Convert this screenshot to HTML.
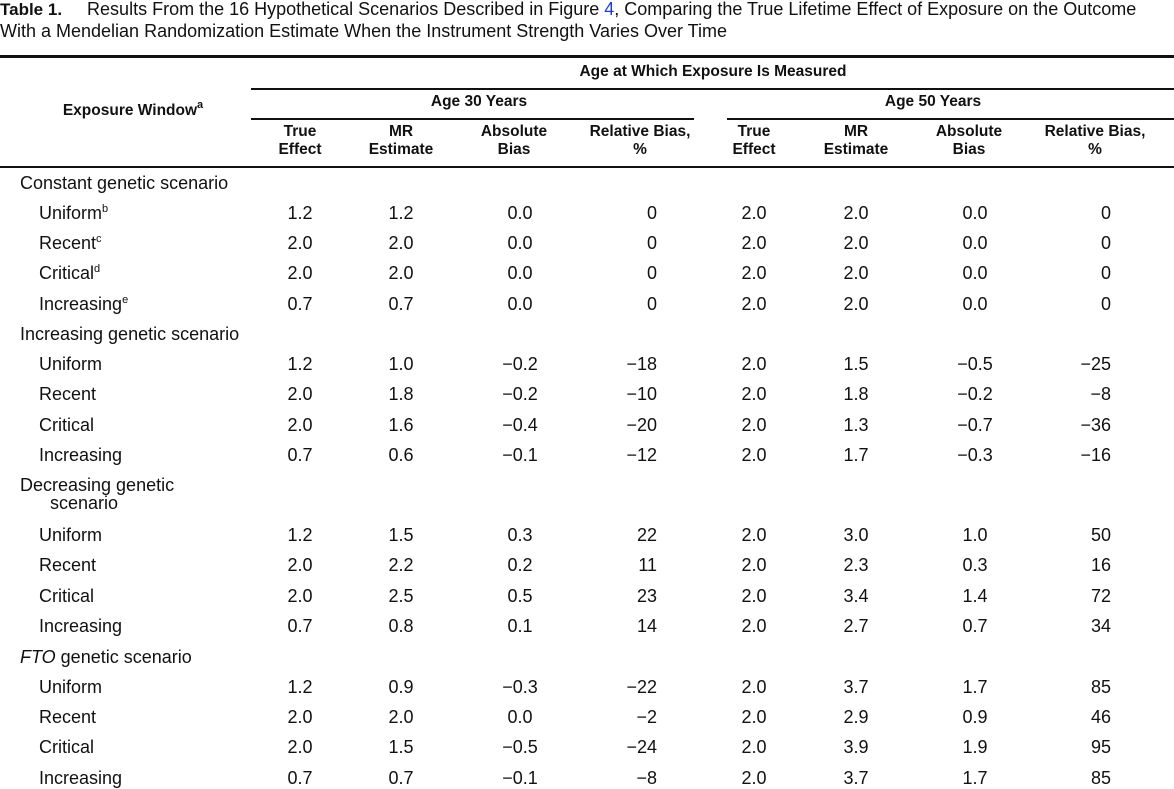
<!DOCTYPE html>
<html><head><meta charset="utf-8"><style>
body{margin:0;width:1174px;height:789px;background:#fff;position:relative;overflow:hidden;font-family:"Liberation Sans",Arial,sans-serif;color:#111}
.t{position:absolute;line-height:20px;font-size:18px;white-space:nowrap}
.c{transform:translateX(-50%);text-align:center}
.r{transform:translateX(-100%);text-align:right}
.h{font-weight:bold;font-size:15.5px;line-height:18px}
.ln{position:absolute;background:#111}
sup{font-size:11px;vertical-align:7px;line-height:0}
</style></head><body>
<div class="t" style="left:0;top:-1px;font-size:18px"><b style="font-size:17px">Table 1.</b>&nbsp;&nbsp;&nbsp;&nbsp;&nbsp;Results From the 16 Hypothetical Scenarios Described in Figure <span style="color:#1a3fd0">4</span>, Comparing the True Lifetime Effect of Exposure on the Outcome</div>
<div class="t" style="left:0;top:21px;font-size:18px">With a Mendelian Randomization Estimate When the Instrument Strength Varies Over Time</div>
<div class="ln" style="left:0;top:55px;width:1174px;height:3px"></div>
<div class="ln" style="left:251px;top:88px;width:923px;height:1.5px"></div>
<div class="ln" style="left:251px;top:118px;width:443px;height:1.5px"></div>
<div class="ln" style="left:727px;top:118px;width:447px;height:1.5px"></div>
<div class="ln" style="left:0;top:166px;width:1174px;height:2px"></div>
<div class="t h c" style="left:133px;top:102px">Exposure Window<sup>a</sup></div>
<div class="t h c" style="left:713px;top:63px">Age at Which Exposure Is Measured</div>
<div class="t h c" style="left:479px;top:93px">Age 30 Years</div>
<div class="t h c" style="left:933px;top:93px">Age 50 Years</div>
<div id="hdr"></div><div id="rows"></div>
<script>
const colHeaders=["True<br>Effect","MR<br>Estimate","Absolute<br>Bias","Relative Bias,<br>%","True<br>Effect","MR<br>Estimate","Absolute<br>Bias","Relative Bias,<br>%"];
const hx=[300,401,514,640,754,856,969,1095];
const vx=[[300,'c'],[401,'c'],[520,'c'],[657,'r'],[754,'c'],[856,'c'],[975,'c'],[1111,'r']];
const rows=[
["s","Constant genetic scenario",183],
["i","Uniform<sup>b</sup>",213,["1.2","1.2","0.0","0","2.0","2.0","0.0","0"]],
["i","Recent<sup>c</sup>",243,["2.0","2.0","0.0","0","2.0","2.0","0.0","0"]],
["i","Critical<sup>d</sup>",273,["2.0","2.0","0.0","0","2.0","2.0","0.0","0"]],
["i","Increasing<sup>e</sup>",304,["0.7","0.7","0.0","0","2.0","2.0","0.0","0"]],
["s","Increasing genetic scenario",334],
["i","Uniform",364,["1.2","1.0","−0.2","−18","2.0","1.5","−0.5","−25"]],
["i","Recent",394,["2.0","1.8","−0.2","−10","2.0","1.8","−0.2","−8"]],
["i","Critical",425,["2.0","1.6","−0.4","−20","2.0","1.3","−0.7","−36"]],
["i","Increasing",455,["0.7","0.6","−0.1","−12","2.0","1.7","−0.3","−16"]],
["s","Decreasing genetic<br>&nbsp;&nbsp;&nbsp;&nbsp;&nbsp;&nbsp;scenario",495],
["i","Uniform",535,["1.2","1.5","0.3","22","2.0","3.0","1.0","50"]],
["i","Recent",565,["2.0","2.2","0.2","11","2.0","2.3","0.3","16"]],
["i","Critical",596,["2.0","2.5","0.5","23","2.0","3.4","1.4","72"]],
["i","Increasing",626,["0.7","0.8","0.1","14","2.0","2.7","0.7","34"]],
["s","<i>FTO</i> genetic scenario",657],
["i","Uniform",687,["1.2","0.9","−0.3","−22","2.0","3.7","1.7","85"]],
["i","Recent",717,["2.0","2.0","0.0","−2","2.0","2.9","0.9","46"]],
["i","Critical",747,["2.0","1.5","−0.5","−24","2.0","3.9","1.9","95"]],
["i","Increasing",778,["0.7","0.7","−0.1","−8","2.0","3.7","1.7","85"]]
];
const H=document.getElementById('hdr');
colHeaders.forEach((h,i)=>{const d=document.createElement('div');d.className='t h c';d.style.left=hx[i]+'px';d.style.top='123px';d.innerHTML=h;


H.appendChild(d);});
const R=document.getElementById('rows');
rows.forEach(r=>{const l=document.createElement('div');l.className='t';l.style.left=(r[0]=='s'?20:39)+'px';
l.style.top=(r[2]-(r[1].includes('<br>')?19:10))+'px';if(r[1].includes('<br>'))l.style.lineHeight='18px';l.innerHTML=r[1];


R.appendChild(l);
if(r[3])r[3].forEach((v,i)=>{const d=document.createElement('div');d.className='t '+vx[i][1];d.style.left=vx[i][0]+'px';d.style.top=(r[2]-10)+'px';d.textContent=v;


R.appendChild(d);});});
</script>
</body></html>
